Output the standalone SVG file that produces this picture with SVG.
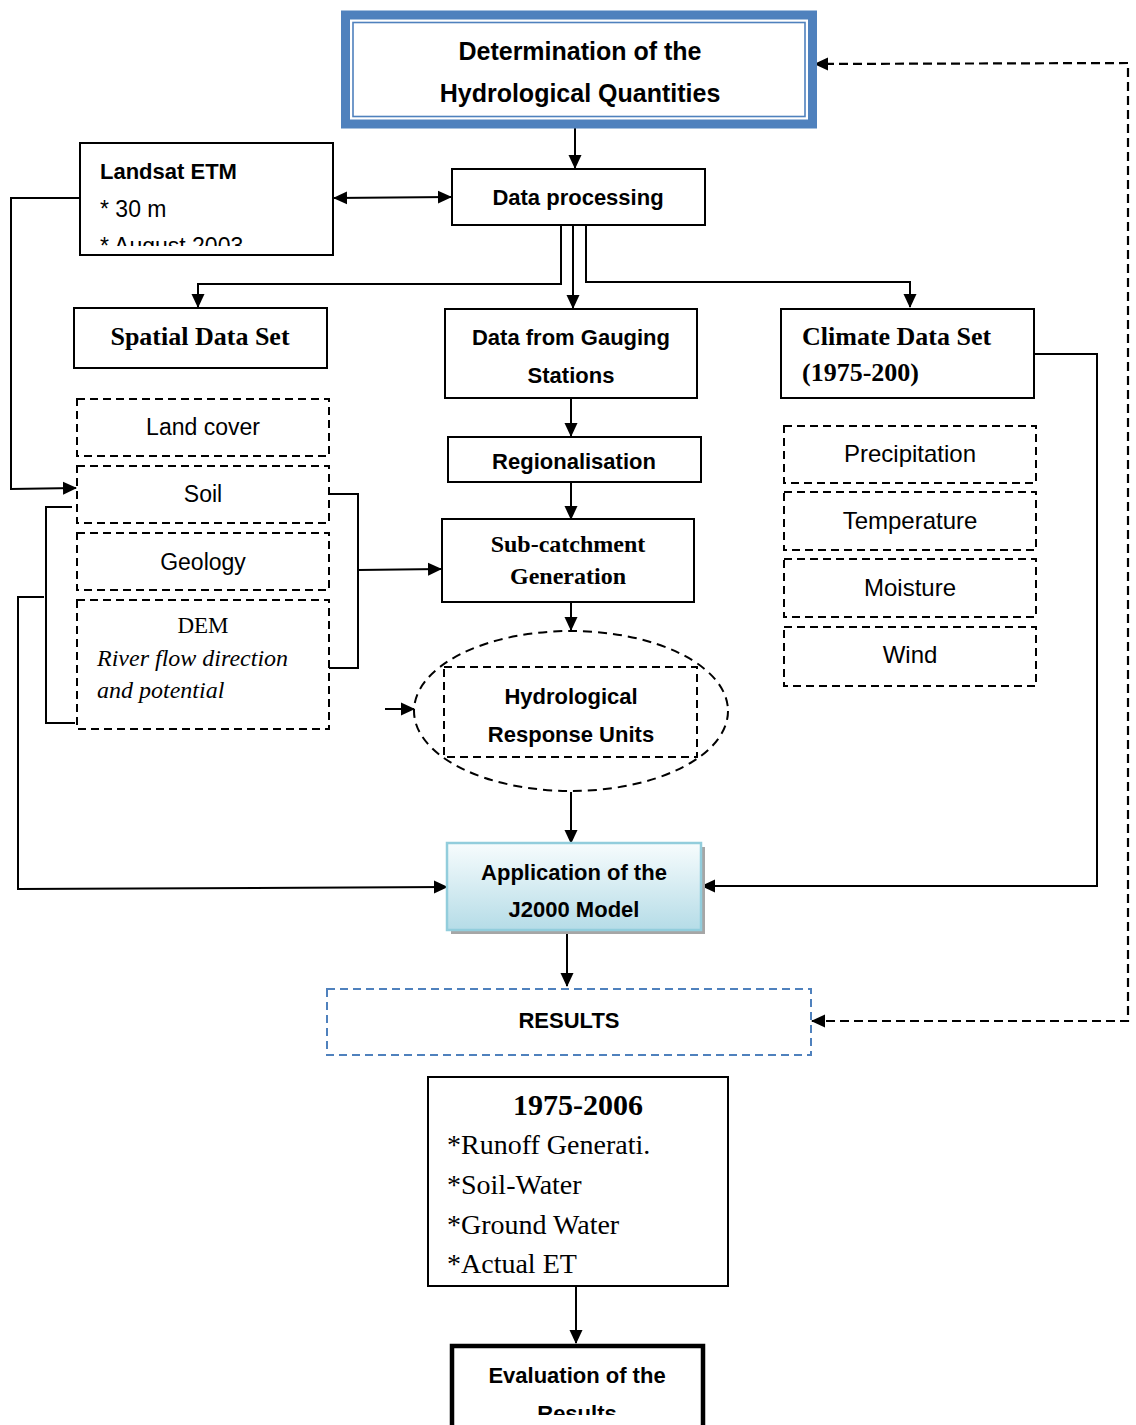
<svg xmlns="http://www.w3.org/2000/svg" width="1136" height="1425" viewBox="0 0 1136 1425">
<defs>
<style>
.box{fill:#fff;stroke:#000;stroke-width:2}
.dbox{fill:#fff;stroke:#000;stroke-width:2;stroke-dasharray:8,5}
.ln{fill:none;stroke:#000;stroke-width:2}
.dln{fill:none;stroke:#000;stroke-width:2.2;stroke-dasharray:9,5}
.sb{font-family:"Liberation Sans",Arial,sans-serif;font-weight:bold;font-size:22px;fill:#000}
.sr{font-family:"Liberation Sans",Arial,sans-serif;font-size:23px;fill:#000}
.fb{font-family:"Liberation Serif","Times New Roman",serif;font-weight:bold;font-size:26px;fill:#000}
.fr{font-family:"Liberation Serif","Times New Roman",serif;font-size:28px;fill:#000}
.c{text-anchor:middle}
</style>
<marker id="ah" markerWidth="14" markerHeight="14" refX="13" refY="7" orient="auto-start-reverse" markerUnits="userSpaceOnUse"><path d="M0,0.5 L14,7 L0,13.5 z" fill="#000"/></marker>
<linearGradient id="appg" x1="0" y1="0" x2="0" y2="1"><stop offset="0" stop-color="#f7fcfd"/><stop offset="1" stop-color="#b5dce7"/></linearGradient>
<clipPath id="clipL"><rect x="80" y="143" width="253" height="103"/></clipPath>
<clipPath id="clipE"><rect x="450" y="1344" width="255" height="71"/></clipPath>
</defs>
<rect width="1136" height="1425" fill="#fff"/>

<g id="connectors">
<line class="ln" x1="575" y1="128" x2="575" y2="168" marker-end="url(#ah)"/>
<line class="ln" x1="334" y1="198" x2="451" y2="197" marker-start="url(#ah)" marker-end="url(#ah)"/>
<polyline class="ln" points="80,198 11,198 11,489 76,488" marker-end="url(#ah)"/>
<polyline class="ln" points="561,225 561,284 198,284 198,307" marker-end="url(#ah)"/>
<line class="ln" x1="573" y1="226" x2="573" y2="308" marker-end="url(#ah)"/>
<polyline class="ln" points="586,225 586,282 910,282 910,307" marker-end="url(#ah)"/>
<line class="ln" x1="571" y1="398" x2="571" y2="436" marker-end="url(#ah)"/>
<line class="ln" x1="571" y1="482" x2="571" y2="519" marker-end="url(#ah)"/>
<line class="ln" x1="571" y1="602" x2="571" y2="630" marker-end="url(#ah)"/>
<polyline class="ln" points="329,494 358,494 358,668 329,668"/>
<line class="ln" x1="358" y1="570" x2="441" y2="569" marker-end="url(#ah)"/>
<polyline class="ln" points="72,507 46,507 46,723 75,723"/>
<polyline class="ln" points="44,597 18,597 18,889 447,887" marker-end="url(#ah)"/>
<line class="ln" x1="385" y1="709" x2="414" y2="709" marker-end="url(#ah)"/>
<line class="ln" x1="571" y1="792" x2="571" y2="843" marker-end="url(#ah)"/>
<polyline class="ln" points="1035,354 1097,354 1097,886 702,886" marker-end="url(#ah)"/>
<line class="ln" x1="567" y1="930" x2="567" y2="986" marker-end="url(#ah)"/>
<polyline class="dln" points="812,1021 1128,1021 1128,63 815,64" marker-start="url(#ah)" marker-end="url(#ah)"/>
<line class="ln" x1="576" y1="1286" x2="576" y2="1343" marker-end="url(#ah)"/>
</g>

<g id="n-determination">
<rect x="345.5" y="15" width="467" height="109" fill="#fff" stroke="#4f81bd" stroke-width="9"/>
<rect x="353" y="22.5" width="452" height="94" fill="none" stroke="#4f81bd" stroke-width="1.6"/>
<text class="sb c" x="580" y="60" style="font-size:25px">Determination of the</text>
<text class="sb c" x="580" y="102" style="font-size:25px">Hydrological Quantities</text>
</g>

<g id="n-landsat">
<rect class="box" x="80" y="143" width="253" height="112"/>
<g clip-path="url(#clipL)">
<text class="sb" x="100" y="179">Landsat ETM</text>
<text class="sr" x="100" y="217">* 30 m</text>
<text class="sr" x="100" y="254">* August 2003</text>
</g>
</g>

<g id="n-dataproc">
<rect class="box" x="452" y="169" width="253" height="56"/>
<text class="sb c" x="578" y="205">Data processing</text>
</g>

<g id="n-spatial">
<rect class="box" x="74" y="308" width="253" height="60"/>
<text class="fb c" x="200" y="345">Spatial Data Set</text>
</g>

<g id="n-gauging">
<rect class="box" x="445" y="309" width="252" height="89"/>
<text class="sb c" x="571" y="345">Data from Gauging</text>
<text class="sb c" x="571" y="383">Stations</text>
</g>

<g id="n-climate">
<rect class="box" x="781" y="309" width="253" height="89"/>
<text class="fb" x="802" y="345">Climate Data Set</text>
<text class="fb" x="802" y="381">(1975-200)</text>
</g>

<g id="n-landcover">
<rect class="dbox" x="77" y="399" width="252" height="57"/>
<text class="sr c" x="203" y="435">Land cover</text>
</g>
<g id="n-soil">
<rect class="dbox" x="77" y="466" width="252" height="57"/>
<text class="sr c" x="203" y="502">Soil</text>
</g>
<g id="n-geology">
<rect class="dbox" x="77" y="533" width="252" height="57"/>
<text class="sr c" x="203" y="570">Geology</text>
</g>
<g id="n-dem">
<rect class="dbox" x="77" y="600" width="252" height="129"/>
<text class="c" x="203" y="633" style="font-family:'Liberation Serif',serif;font-size:23px">DEM</text>
<text x="97" y="666" style="font-family:'Liberation Serif',serif;font-size:24px;font-style:italic">River flow direction</text>
<text x="97" y="698" style="font-family:'Liberation Serif',serif;font-size:24px;font-style:italic">and potential</text>
</g>

<g id="n-regionalisation">
<rect class="box" x="448" y="437" width="253" height="45"/>
<text class="sb c" x="574" y="469">Regionalisation</text>
</g>

<g id="n-subcatchment">
<rect class="box" x="442" y="519" width="252" height="83"/>
<text class="fb c" x="568" y="552" style="font-size:24px">Sub-catchment</text>
<text class="fb c" x="568" y="584" style="font-size:24px">Generation</text>
</g>

<g id="n-hru">
<ellipse cx="571" cy="711" rx="157" ry="80" fill="none" stroke="#000" stroke-width="2" stroke-dasharray="9,6"/>
<rect x="444" y="667" width="253" height="90" fill="none" stroke="#000" stroke-width="2" stroke-dasharray="8,5"/>
<text class="sb c" x="571" y="704">Hydrological</text>
<text class="sb c" x="571" y="742">Response Units</text>
</g>

<g id="n-precip">
<rect class="dbox" x="784" y="426" width="252" height="57"/>
<text class="sr c" x="910" y="462" style="font-size:24px">Precipitation</text>
</g>
<g id="n-temp">
<rect class="dbox" x="784" y="492" width="252" height="58"/>
<text class="sr c" x="910" y="529" style="font-size:24px">Temperature</text>
</g>
<g id="n-moisture">
<rect class="dbox" x="784" y="559" width="252" height="58"/>
<text class="sr c" x="910" y="596" style="font-size:24px">Moisture</text>
</g>
<g id="n-wind">
<rect class="dbox" x="784" y="627" width="252" height="59"/>
<text class="sr c" x="910" y="663" style="font-size:24px">Wind</text>
</g>

<g id="n-application">
<rect x="451" y="847" width="254" height="87" fill="#a6a6a6"/>
<rect x="447" y="843" width="254" height="87" fill="url(#appg)" stroke="#92cddc" stroke-width="2.5"/>
<text class="sb c" x="574" y="880">Application of the</text>
<text class="sb c" x="574" y="917">J2000 Model</text>
</g>

<g id="n-results">
<rect x="327" y="989" width="484" height="66" fill="#fff" stroke="#4f81bd" stroke-width="2" stroke-dasharray="8,5"/>
<text class="sb c" x="569" y="1028">RESULTS</text>
</g>

<g id="n-period">
<rect class="box" x="428" y="1077" width="300" height="209"/>
<text class="fb c" x="578" y="1115" style="font-size:30px">1975-2006</text>
<text class="fr" x="447" y="1154">*Runoff Generati.</text>
<text class="fr" x="447" y="1194">*Soil-Water</text>
<text class="fr" x="447" y="1234">*Ground Water</text>
<text class="fr" x="447" y="1273">*Actual ET</text>
</g>

<g id="n-evaluation">
<rect x="452" y="1346" width="251" height="90" fill="#fff" stroke="#000" stroke-width="4.5"/>
<g clip-path="url(#clipE)">
<text class="sb c" x="577" y="1383">Evaluation of the</text>
<text class="sb c" x="577" y="1421">Results</text>
</g>
</g>
</svg>
